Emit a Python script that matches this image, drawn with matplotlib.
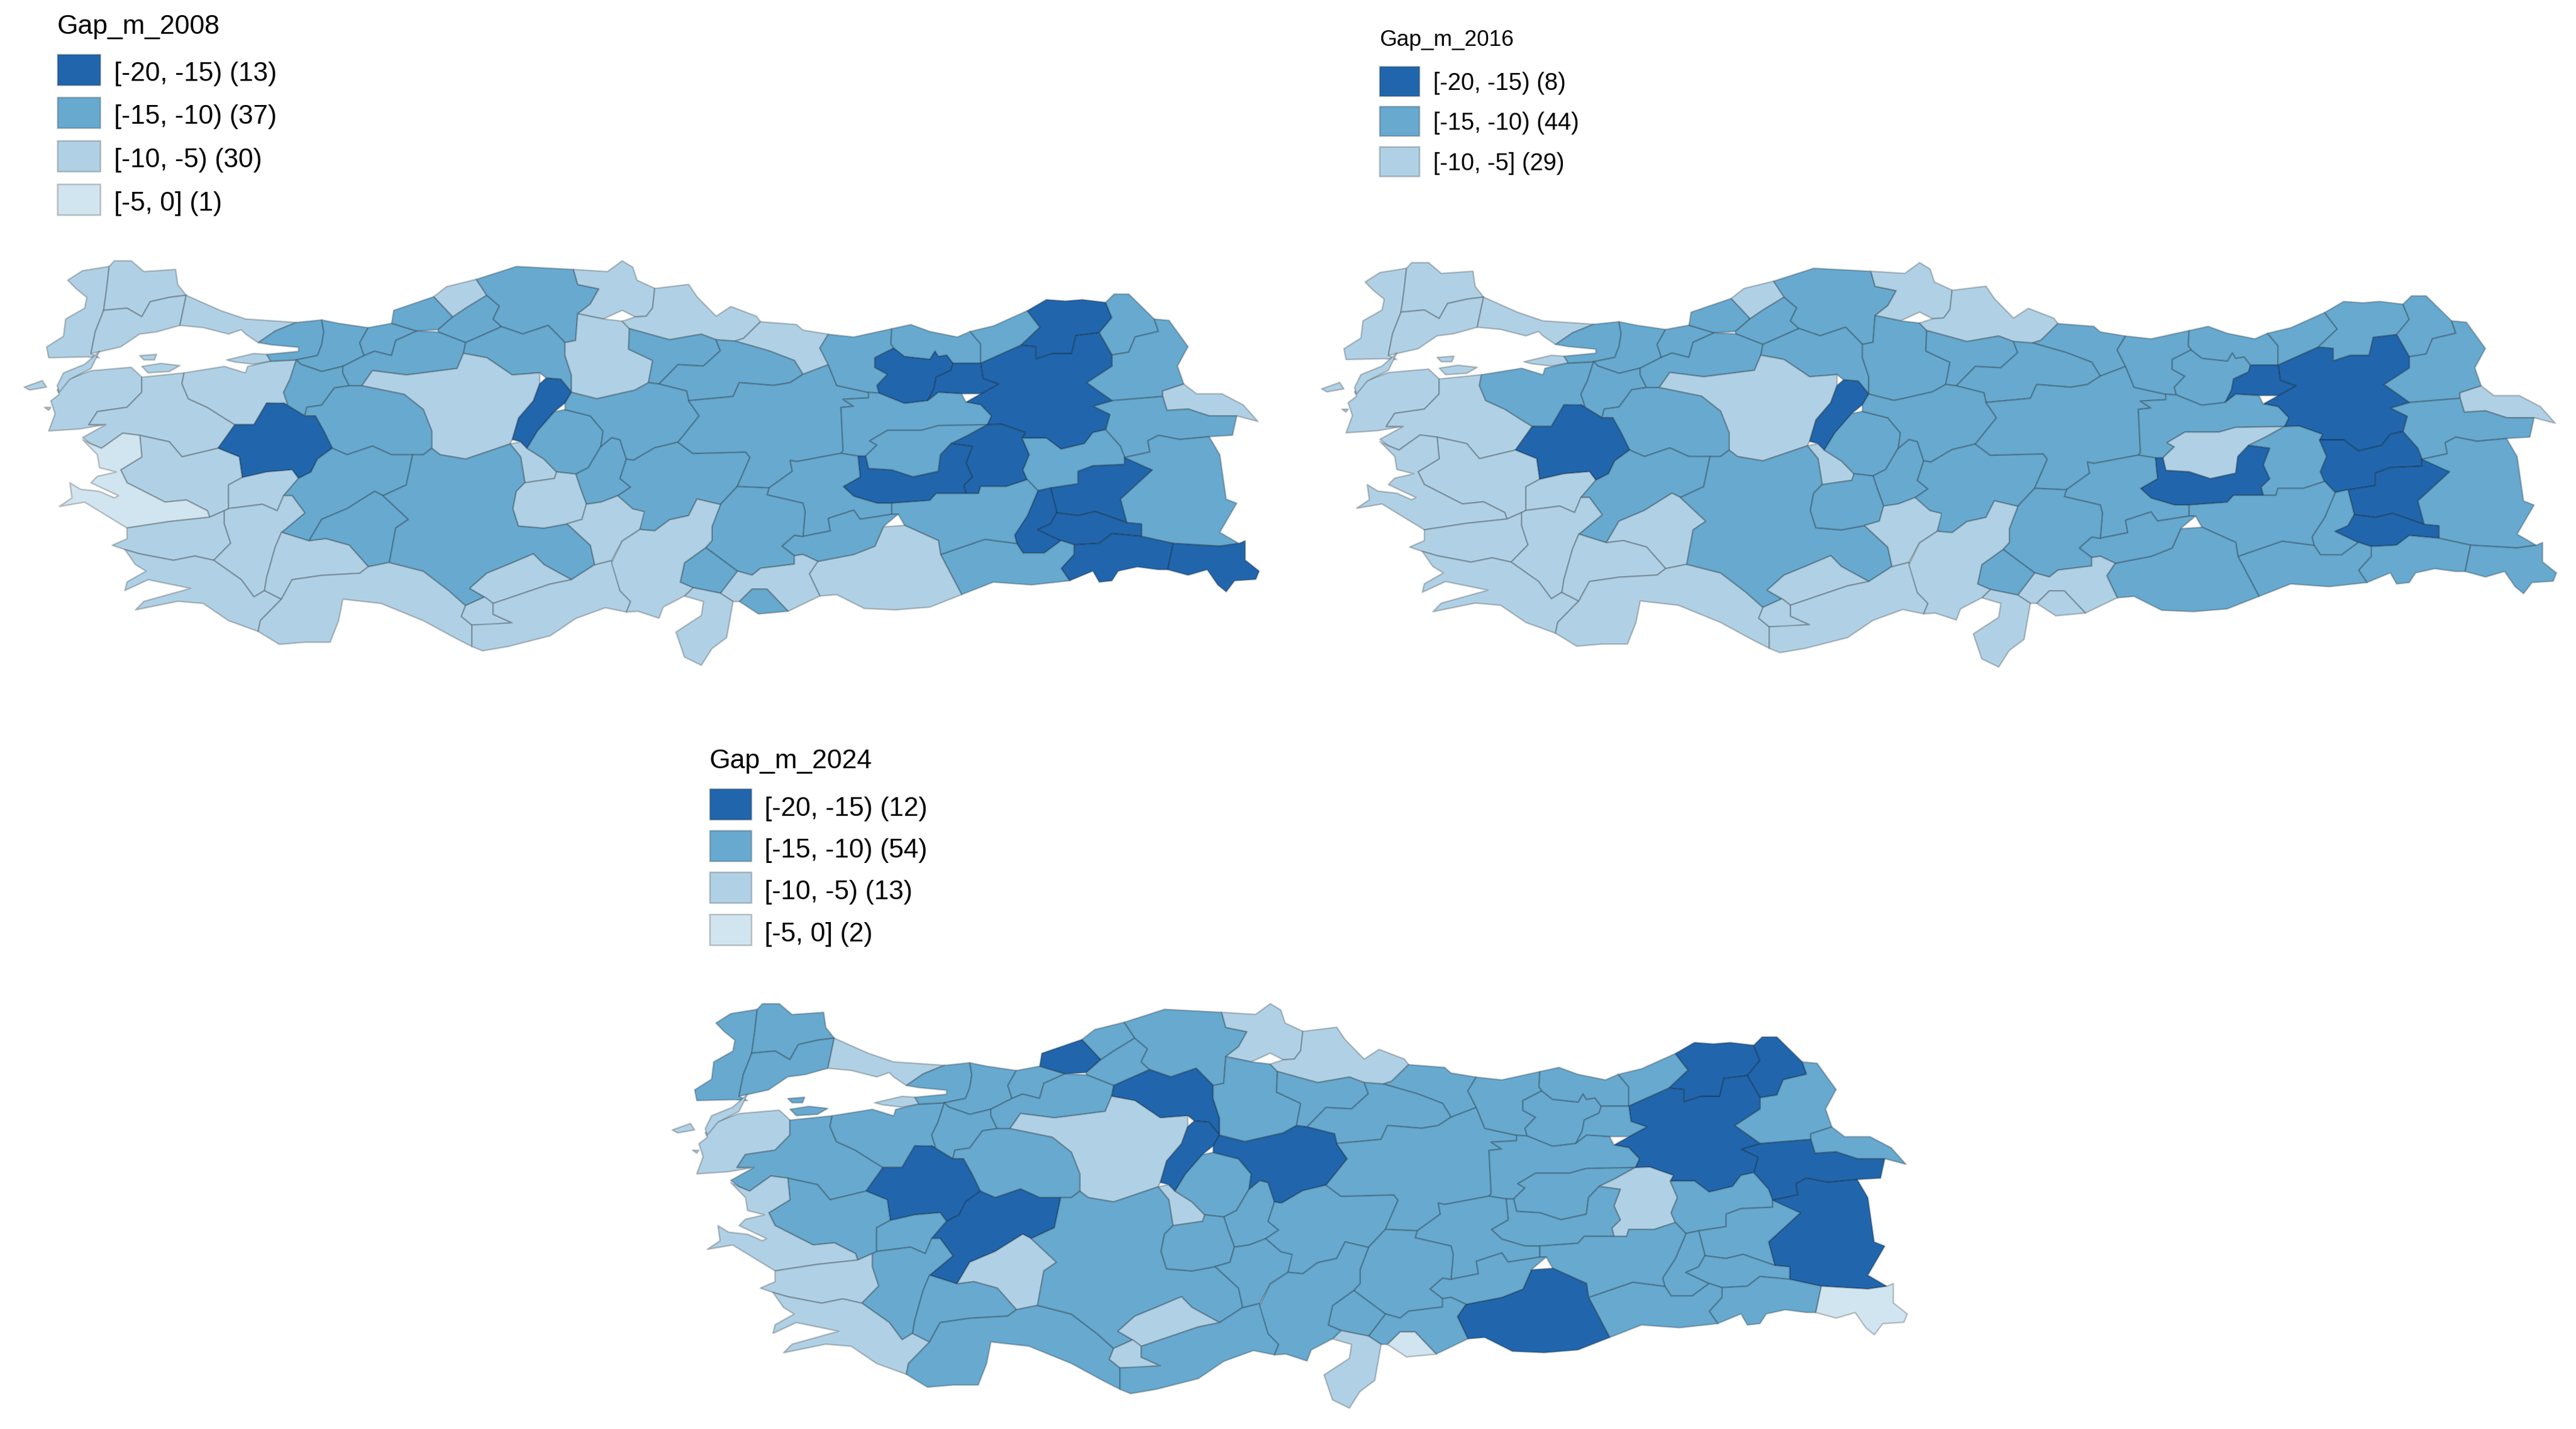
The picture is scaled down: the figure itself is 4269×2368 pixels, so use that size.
import matplotlib
matplotlib.use('Agg')
import matplotlib.pyplot as plt
from matplotlib.patches import Rectangle

plt.rcParams['font.family'] = ['Liberation Sans', 'DejaVu Sans']

# province outlines. west ones in one frame, east ones in another
WEST = {
 'Edirne': [[(160,650),(195,628),(258,618),(252,670),(245,720),(225,770),(215,820),(235,830),(205,828),(115,830),(110,805),(150,780),(155,740),(200,715),(205,690),(180,670)]],
 'Kirklareli': [[(258,618),(270,605),(310,605),(340,630),(415,625),(420,660),(440,685),(400,690),(355,700),(335,735),(300,715),(245,720),(252,670)]],
 'Tekirdag': [[(245,720),(300,715),(335,735),(355,700),(400,690),(440,685),(425,755),(370,770),(330,775),(285,805),(240,815),(215,820),(225,770)]],
 'Istanbul': [[(440,685),(520,720),(580,740),(700,748),(650,768),(610,795),(580,775),(570,765),(540,775),(480,760),(425,755)]],
 'Canakkale': [[(335,875),(335,910),(300,945),(230,955),(210,985),(250,985),(190,995),(115,1000),(130,960),(120,930),(140,915),(135,905),(160,880),(215,860),(310,852),(330,870)],
               [(235,815),(215,855),(165,880),(140,910),(135,895),(150,865),(200,845)],
               [(57,898),(100,883),(110,898),(70,905)], [(105,945),(120,945),(115,952)]],
 'Balikesir': [[(335,875),(435,865),(430,890),(445,925),(490,945),(530,970),(555,985),(515,1040),(430,1060),(400,1025),(330,1010),(290,1005),(240,1040),(215,1030),(195,1015),(250,985),(210,985),(230,955),(300,945),(335,910)],
               [(330,825),(370,822),(365,835),(340,835)], [(335,850),(380,843),(425,848),(400,862),(350,865)]],
 'Yalova': [[(535,835),(600,820),(630,822),(640,838),(600,845),(555,840)]],
 'Bursa': [[(435,865),(530,850),(580,865),(585,850),(640,838),(700,835),(685,880),(670,910),(680,940),(630,935),(600,985),(555,985),(530,970),(490,945),(445,925),(430,890)]],
 'Kocaeli': [[(610,795),(650,768),(700,748),(760,742),(765,770),(760,800),(750,825),(700,835),(640,838),(630,822),(705,815),(705,806),(640,800)]],
 'Sakarya': [[(760,742),(800,750),(870,760),(850,795),(860,825),(810,850),(760,862),(710,845),(700,835),(750,825),(760,800),(765,770)]],
 'Bilecik': [[(700,835),(710,845),(760,862),(810,850),(810,865),(825,895),(790,900),(760,940),(725,945),(720,965),(670,935),(680,940),(670,910),(685,880)]],
 'Duzce': [[(870,760),(925,750),(985,768),(935,790),(925,825),(885,815),(860,825),(850,795)]],
 'Zonguldak': [[(925,750),(930,720),(1025,688),(1070,735),(1035,765),(985,768)]],
 'Bartin': [[(1025,688),(1055,665),(1125,648),(1150,685),(1100,715),(1070,735)]],
 'Karabuk': [[(1035,770),(1035,765),(1070,735),(1100,715),(1150,685),(1180,710),(1165,740),(1185,758),(1100,795)]],
 'Kastamonu': [[(1125,648),(1220,618),(1355,625),(1365,660),(1415,670),(1395,705),(1365,728),(1360,790),(1335,795),(1295,755),(1235,775),(1185,758),(1165,740),(1180,710),(1150,685)]],
 'Bolu': [[(925,825),(935,790),(985,768),(1035,770),(1100,795),(1095,820),(1080,855),(960,870),(880,860),(855,895),(825,895),(810,865),(810,850),(860,825),(885,815)]],
 'Cankiri': [[(1100,795),(1185,758),(1235,775),(1295,755),(1335,795),(1335,825),(1350,870),(1350,910),(1325,880),(1290,877),(1275,865),(1210,870),(1150,830),(1095,820)]],
 'Sinop': [[(1355,625),(1435,630),(1470,605),(1495,620),(1505,650),(1547,669),(1542,714),(1527,734),(1500,735),(1470,720),(1425,740),(1365,728),(1395,705),(1415,670),(1365,660)]],
 'Corum': [[(1365,728),(1425,740),(1470,745),(1487,762),(1485,810),(1542,836),(1532,888),(1500,905),(1410,925),(1350,910),(1350,870),(1335,825),(1335,795),(1360,790)]],
 'Ankara': [[(855,895),(880,860),(960,870),(1080,855),(1095,820),(1150,830),(1210,870),(1275,865),(1275,890),(1260,930),(1225,970),(1210,1020),(1205,1030),(1100,1065),(1040,1055),(1020,1040),(1020,1000),(1000,950),(955,915)],
            [(1205,1030),(1230,1025),(1245,1040),(1285,1065),(1315,1095),(1310,1110),(1240,1120),(1230,1060)]],
 'Eskisehir': [[(725,945),(760,940),(790,900),(825,895),(855,895),(955,915),(1000,950),(1020,1000),(1020,1040),(1000,1055),(975,1055),(925,1055),(880,1035),(820,1055),(785,1040),(765,1000),(745,965),(720,965)]],
 'Kutahya': [[(630,935),(670,935),(720,965),(745,965),(765,1000),(785,1040),(750,1065),(735,1095),(705,1110),(690,1090),(630,1095),(572,1108),(565,1060),(515,1040),(555,985),(600,985)]],
 'Manisa': [[(330,1010),(400,1025),(430,1060),(515,1040),(565,1060),(572,1108),(540,1125),(540,1180),(530,1185),(495,1200),(490,1185),(440,1160),(390,1165),(300,1120),(285,1090),(335,1060)]],
 'Izmir': [[(240,1040),(290,1005),(330,1010),(335,1060),(285,1090),(300,1120),(390,1165),(440,1160),(490,1185),(495,1200),(400,1210),(300,1225),(250,1195),(200,1165),(140,1175),(170,1155),(165,1120),(190,1135),(235,1140),(270,1155),(280,1150),(215,1120),(230,1105),(275,1095),(235,1085),(230,1055),(195,1020),(215,1030)]],
 'Usak': [[(572,1108),(630,1095),(690,1090),(705,1110),(670,1150),(655,1185),(620,1170),(540,1180),(540,1125)]],
 'Afyon': [[(705,1110),(735,1095),(750,1065),(785,1040),(820,1055),(880,1035),(925,1055),(975,1055),(960,1125),(905,1150),(885,1140),(820,1180),(760,1205),(730,1255),(665,1235),(720,1190),(690,1150),(670,1150)]],
 'Aydin': [[(300,1225),(400,1210),(495,1200),(530,1185),(530,1215),(545,1260),(505,1300),(460,1290),(410,1300),(330,1285),(295,1275),(265,1265),(300,1250)]],
 'Denizli': [[(540,1180),(620,1170),(655,1185),(670,1150),(690,1150),(720,1190),(665,1235),(650,1270),(630,1340),(625,1370),(600,1385),(570,1345),(505,1300),(545,1260),(530,1215),(530,1185)]],
 'Mugla': [[(295,1275),(330,1285),(410,1300),(460,1290),(505,1300),(570,1345),(600,1385),(625,1370),(665,1390),(660,1395),(615,1440),(610,1465),(540,1440),(480,1400),(420,1395),(320,1415),(340,1395),(450,1365),(350,1345),(295,1370),(300,1350),(345,1325),(320,1310)]],
 'Isparta': [[(760,1205),(820,1180),(885,1140),(905,1150),(965,1205),(935,1225),(920,1305),(870,1315),(825,1265),(770,1250),(730,1255)]],
 'Burdur': [[(665,1235),(730,1255),(770,1250),(825,1265),(870,1315),(850,1330),(760,1335),(690,1345),(665,1390),(625,1370),(630,1340),(650,1270)]],
 'Antalya': [[(665,1390),(690,1345),(760,1335),(850,1330),(870,1315),(920,1305),(1000,1325),(1060,1370),(1100,1405),(1090,1430),(1115,1450),(1115,1500),(1075,1480),(1000,1440),(900,1400),(810,1390),(800,1440),(780,1490),(720,1490),(660,1495),(610,1465),(615,1440),(660,1395)]],
 'Konya': [[(905,1150),(960,1125),(975,1055),(1000,1055),(1020,1040),(1040,1055),(1100,1065),(1205,1030),(1230,1060),(1240,1120),(1220,1140),(1212,1180),(1225,1220),(1285,1225),(1340,1215),(1395,1265),(1405,1310),(1350,1345),(1285,1310),(1260,1285),(1200,1310),(1150,1330),(1110,1365),(1145,1385),(1100,1405),(1060,1370),(1000,1325),(920,1305),(935,1225),(965,1205)]],
 'Karaman': [[(1110,1365),(1150,1330),(1200,1310),(1260,1285),(1285,1310),(1350,1345),(1300,1355),(1165,1400),(1145,1385)],
             [(1100,1405),(1145,1385),(1165,1400),(1165,1425),(1210,1445),(1150,1450),(1115,1450),(1090,1430)]],
 'Mersin': [[(1165,1400),(1300,1355),(1350,1345),(1405,1310),(1445,1300),(1465,1370),(1490,1395),(1480,1420),(1430,1410),(1360,1435),(1300,1475),(1200,1500),(1140,1510),(1115,1500),(1115,1450),(1210,1445),(1165,1425)]],
 'Kirikkale': [[(1275,890),(1290,877),(1325,880),(1350,910),(1335,935),(1310,955),(1270,1000),(1245,1040),(1230,1025),(1210,1020),(1225,970),(1260,930)]],
 'Kirsehir': [[(1245,1040),(1270,1000),(1310,955),(1335,950),(1395,965),(1425,1000),(1420,1035),(1390,1085),(1360,1100),(1315,1095),(1285,1065)]],
 'Nevsehir': [[(1420,1035),(1445,1015),(1465,1020),(1480,1065),(1465,1110),(1490,1130),(1460,1150),(1420,1165),(1385,1170),(1370,1130),(1360,1100),(1390,1085)]],
 'Aksaray': [[(1240,1120),(1310,1110),(1315,1095),(1360,1100),(1370,1130),(1385,1170),(1375,1205),(1340,1215),(1285,1225),(1225,1220),(1212,1180),(1220,1140)]],
 'Nigde': [[(1375,1205),(1385,1170),(1420,1165),(1460,1150),(1495,1180),(1525,1187),(1512,1228),(1470,1255),(1445,1300),(1405,1310),(1395,1265),(1340,1215)]],
}

EAST = {
 'Samsun': [[(50,170),(130,155),(150,200),(195,270),(230,235),(290,270),(300,290),(260,350),(240,360),(195,355),(160,335),(85,355),(-10,315),(-27,288),(3,273),(30,270),(45,240)]],
 'Ordu': [[(300,290),(385,300),(400,320),(460,335),(440,385),(460,445),(400,480),(380,430),(320,395),(240,360),(260,350)]],
 'Amasya': [[(-10,315),(85,355),(160,335),(195,355),(205,395),(165,450),(105,445),(60,515),(35,510),(45,430),(-12,389)]],
 'Tokat': [[(195,355),(240,360),(320,395),(380,430),(400,480),(370,510),(330,520),(250,510),(235,560),(130,575),(125,540),(60,515),(105,445),(165,450),(205,395)]],
 'Yozgat': [[(-147,545),(-87,568),(3,537),(35,510),(60,515),(125,540),(130,575),(155,630),(105,725),(50,745),(0,790),(-17,786),(-32,716),(-52,708),(-77,740),(-72,685),(-102,630),(-162,607),(-162,584)]],
 'Kayseri': [[(-17,786),(0,790),(50,745),(105,725),(140,765),(265,760),(275,780),(245,885),(205,950),(150,930),(130,990),(85,1005),(50,1045),(15,1040),(25,975),(-2,965),(-37,918),(-7,887),(-32,856)]],
 'Sivas': [[(105,725),(155,630),(130,575),(235,560),(250,510),(330,520),(370,510),(400,480),(460,445),(480,520),(555,545),(555,565),(495,570),(520,595),(490,600),(495,755),(490,765),(385,795),(370,790),(375,830),(320,890),(245,885),(275,780),(265,760),(140,765)]],
 'Giresun': [[(460,335),(520,345),(610,315),(608,370),(615,385),(570,420),(570,455),(600,480),(575,520),(580,548),(555,545),(480,520),(460,445),(440,385)]],
 'Gumushane': [[(615,385),(640,415),(700,425),(712,395),(720,415),(740,410),(755,440),(750,465),(715,490),(710,530),(695,575),(640,585),(580,548),(575,520),(600,480),(570,455),(570,420)]],
 'Trabzon': [[(610,315),(655,300),(700,325),(765,345),(795,325),(820,370),(820,440),(755,440),(740,410),(720,415),(712,395),(700,425),(640,415),(615,385),(608,370)]],
 'Rize': [[(795,325),(850,305),(930,250),(960,310),(915,375),(820,440),(820,370)]],
 'Artvin': [[(930,250),(975,210),(1020,215),(1060,210),(1115,220),(1130,275),(1100,330),(1045,340),(1035,405),(990,405),(950,425),(950,380),(915,375),(960,310)]],
 'Ardahan': [[(1115,220),(1135,190),(1170,190),(1230,280),(1240,325),(1185,345),(1170,400),(1130,410),(1100,330),(1130,275)]],
 'Kars': [[(1230,280),(1265,285),(1310,380),(1285,450),(1300,515),(1250,540),(1250,560),(1130,575),(1070,510),(1130,450),(1130,410),(1170,400),(1185,345),(1240,325)]],
 'Igdir': [[(1250,540),(1300,515),(1330,550),(1390,550),(1440,590),(1475,650),(1425,630),(1360,630),(1310,605),(1260,610),(1250,560)]],
 'Agri': [[(1130,575),(1250,560),(1260,610),(1310,605),(1360,630),(1425,630),(1415,700),(1360,705),(1290,715),(1240,700),(1215,720),(1220,760),(1160,780),(1150,740),(1115,680),(1125,625),(1085,595)]],
 'Erzurum': [[(820,440),(915,375),(950,380),(950,425),(990,405),(1035,405),(1045,340),(1100,330),(1130,410),(1130,450),(1070,510),(1130,575),(1085,595),(1125,625),(1115,680),(1085,690),(1065,730),(1010,750),(975,710),(918,710),(925,690),(870,660),(835,662),(845,630),(820,590),(785,580),(820,550),(862,515),(825,495)]],
 'Bayburt': [[(755,440),(820,440),(825,495),(862,515),(820,550),(775,550),(720,545),(695,575),(710,530),(715,490),(750,465)]],
 'Erzincan': [[(555,545),(580,548),(640,585),(695,575),(720,545),(775,550),(785,580),(820,590),(845,630),(835,662),(720,665),(680,682),(600,682),(558,720),(575,735),(548,775),(530,775),(490,765),(495,755),(490,600),(520,595),(495,570),(555,565)]],
 'Tunceli': [[(555,820),(548,775),(575,735),(558,720),(600,682),(680,682),(720,665),(835,662),(790,700),(750,730),(725,770),(720,830),(660,850),(610,825)]],
 'Bingol': [[(835,662),(870,660),(925,690),(918,710),(935,770),(920,825),(930,860),(880,885),(820,885),(815,910),(785,910),(780,880),(800,850),(785,800),(800,740),(750,730),(790,700)]],
 'Elazig': [[(530,775),(548,775),(555,820),(610,825),(660,850),(720,830),(725,770),(750,730),(800,740),(785,800),(800,850),(780,880),(785,910),(715,910),(700,935),(610,945),(575,945),(520,920),(495,885),(535,850)]],
 'Malatya': [[(370,790),(385,795),(490,765),(530,775),(535,850),(495,885),(520,920),(575,945),(610,945),(610,985),(535,1003),(520,970),(460,1000),(465,1045),(400,1065),(405,975),(400,945),(315,915),(320,890),(375,830)]],
 'Mus': [[(918,710),(975,710),(1010,750),(1065,730),(1085,690),(1115,680),(1150,740),(1160,780),(1160,805),(1085,810),(1050,830),(1050,875),(985,890),(955,900),(930,860),(920,825),(935,770)]],
 'Van': [[(1160,780),(1220,760),(1215,720),(1240,700),(1290,715),(1360,705),(1385,770),(1400,930),(1425,945),(1385,1050),(1430,1090),(1385,1100),(1275,1090),(1200,1065),(1200,1020),(1165,1015),(1150,930),(1225,825),(1165,800)]],
 'Bitlis': [[(1050,830),(1085,810),(1160,805),(1160,780),(1225,825),(1150,930),(1165,1015),(1090,975),(1050,990),(1000,980),(985,890),(1050,875)]],
 'Batman': [[(955,900),(985,890),(1000,980),(985,1020),(955,1040),(1010,1080),(970,1125),(920,1125),(905,1090),(900,1060),(930,990)]],
 'Siirt': [[(1000,980),(1050,990),(1090,975),(1165,1015),(1200,1020),(1200,1065),(1130,1055),(1100,1090),(1040,1095),(1010,1080),(955,1040),(985,1020)]],
 'Sirnak': [[(1040,1095),(1100,1090),(1130,1055),(1200,1065),(1275,1090),(1262,1185),(1240,1185),(1190,1175),(1145,1190),(1130,1225),(1100,1230),(1085,1190),(1030,1225),(1010,1180),(1040,1130)]],
 'Hakkari': [[(1275,1090),(1385,1100),(1430,1090),(1445,1080),(1445,1150),(1478,1190),(1470,1220),(1420,1225),(1400,1265),(1380,1240),(1355,1185),(1310,1205),(1262,1185)]],
 'Mardin': [[(725,1130),(830,1075),(905,1090),(920,1125),(970,1125),(1010,1080),(1040,1095),(1040,1130),(1010,1180),(1030,1225),(940,1240),(850,1230),(775,1275)]],
 'Diyarbakir': [[(610,945),(700,935),(715,910),(785,910),(815,910),(820,885),(880,885),(930,860),(955,900),(930,990),(900,1060),(905,1090),(830,1075),(725,1130),(720,1080),(640,1025),(625,985),(610,985)]],
 'Sanliurfa': [[(435,1155),(520,1130),(570,1100),(590,1030),(640,1025),(720,1080),(725,1130),(775,1275),(700,1320),(620,1330),(545,1325),(480,1275),(440,1280),(415,1200)]],
 'Adiyaman': [[(350,1100),(380,1060),(400,1065),(465,1045),(460,1000),(520,970),(535,1003),(610,985),(625,985),(590,1030),(570,1100),(520,1130),(435,1155),(400,1130),(380,1135)]],
 'Kmaras': [[(205,950),(245,885),(320,890),(315,915),(400,945),(405,975),(400,1065),(380,1060),(350,1100),(380,1135),(380,1165),(300,1180),(280,1205),(245,1190),(170,1105),(185,1080),(185,1030)]],
 'Gaziantep': [[(245,1190),(280,1205),(300,1180),(380,1165),(380,1135),(400,1130),(435,1155),(415,1200),(440,1280),(365,1335),(315,1255),(280,1255),(250,1300),(235,1300),(205,1270)]],
 'Kilis': [[(250,1300),(280,1255),(315,1255),(365,1335),(295,1345)]],
 'Osmaniye': [[(170,1105),(245,1190),(205,1270),(140,1250),(110,1230),(120,1160)]],
 'Hatay': [[(140,1250),(205,1270),(235,1300),(220,1430),(185,1470),(160,1530),(120,1500),(100,1410),(160,1350),(165,1300),(120,1280)]],
 'Adana': [[(15,1040),(50,1045),(85,1005),(130,990),(150,930),(205,950),(185,1030),(185,1080),(170,1105),(120,1160),(110,1230),(140,1250),(120,1280),(70,1320),(60,1360),(10,1335),(-17,1338),(-7,1300),(-32,1261),(-52,1160),(-27,1082)]],
}

# class of each province per year: D [-20,-15)  M [-15,-10)  L [-10,-5)  X [-5,0]
DARK_2008 = ['Kutahya','Kirikkale','Gumushane','Artvin','Erzurum','Bayburt','Bingol','Elazig','Bitlis','Batman','Siirt','Sirnak','Hakkari']
LIGHT_2008 = ['Edirne','Kirklareli','Tekirdag','Istanbul','Canakkale','Balikesir','Yalova','Bursa','Bartin','Sinop','Corum','Ankara','Manisa','Usak','Aydin','Denizli','Mugla','Burdur','Antalya','Karaman','Mersin','Aksaray','Nigde','Samsun','Ordu','Igdir','Sanliurfa','Gaziantep','Hatay','Adana']
PALE_2008 = ['Izmir']

DARK_2016 = ['Kutahya','Kirikkale','Bayburt','Erzurum','Elazig','Mus','Bitlis','Siirt']
LIGHT_2016 = ['Edirne','Kirklareli','Tekirdag','Istanbul','Canakkale','Balikesir','Yalova','Bartin','Sinop','Samsun','Ankara','Manisa','Izmir','Usak','Aydin','Denizli','Mugla','Burdur','Isparta','Antalya','Karaman','Mersin','Nigde','Tunceli','Igdir','Adana','Gaziantep','Kilis','Hatay']
PALE_2016 = []

DARK_2024 = ['Zonguldak','Cankiri','Kutahya','Afyon','Kirikkale','Yozgat','Artvin','Ardahan','Agri','Erzurum','Van','Sanliurfa']
LIGHT_2024 = ['Istanbul','Canakkale','Yalova','Sinop','Ankara','Izmir','Aydin','Mugla','Isparta','Karaman','Samsun','Bingol','Hatay']
PALE_2024 = ['Hakkari','Kilis']

LABELS_2008 = ['[-20, -15) (13)', '[-15, -10) (37)', '[-10, -5) (30)', '[-5, 0] (1)']
LABELS_2016 = ['[-20, -15) (8)', '[-15, -10) (44)', '[-10, -5] (29)']
LABELS_2024 = ['[-20, -15) (12)', '[-15, -10) (54)', '[-10, -5) (13)', '[-5, 0] (2)']

BLUES = ['#2166AC', '#67A9CF', '#B0D1E5', '#D1E5F0']
EDGE = (0, 0, 0, 0.22)


def west_xy(p):
    return p[0] / 1.4255, p[1] / 1.4


def east_xy(p):
    return 1050 + p[0] / 1.4255, 400 + p[1] / 2.178


def draw_map(ax, dark, light, pale, dx, dy):
    for shapes, conv in ((WEST, west_xy), (EAST, east_xy)):
        for name, parts in shapes.items():
            if name in dark:
                c = BLUES[0]
            elif name in light:
                c = BLUES[2]
            elif name in pale:
                c = BLUES[3]
            else:
                c = BLUES[1]
            for part in parts:
                pts = [conv(p) for p in part]
                ax.fill([q[0] + dx for q in pts], [q[1] + dy for q in pts],
                        facecolor=c, edgecolor=EDGE, linewidth=1.8, joinstyle='round')


def draw_legend(ax, title, labels, x, tx, title_y, centres, h, w, tsize, lsize, shift):
    ax.text(x, title_y, title, fontsize=tsize, ha='left', va='baseline', color='black')
    for lab, cy, c in zip(labels, centres, BLUES):
        ax.add_patch(Rectangle((x, cy - h / 2), w, h, facecolor=c, edgecolor=EDGE, linewidth=1.8))
        ax.text(tx, cy + shift, lab, fontsize=lsize, ha='left', va='baseline', color='black')


fig = plt.figure(figsize=(42.69, 23.68), dpi=100)
ax = fig.add_axes([0, 0, 1, 1])
ax.set_xlim(0, 4269)
ax.set_ylim(2368, 0)
ax.axis('off')

draw_map(ax, DARK_2008, LIGHT_2008, PALE_2008, 0, 0)
draw_map(ax, DARK_2016, LIGHT_2016, PALE_2016, 2150, 3)
draw_map(ax, DARK_2024, LIGHT_2024, PALE_2024, 1074, 1231)

draw_legend(ax, 'Gap_m_2008', LABELS_2008, 95, 189, 56, [115, 186, 258, 330], 51, 71, 32, 31.8, 19)
draw_legend(ax, 'Gap_m_2016', LABELS_2016, 2286, 2375, 76, [134, 200, 267], 49, 66, 26.5, 28.5, 15)
draw_legend(ax, 'Gap_m_2024', LABELS_2024, 1176, 1267, 1273, [1332, 1401, 1470, 1540], 51, 69, 32, 31.8, 20)

fig.savefig('out.png', dpi=100, facecolor='white')
